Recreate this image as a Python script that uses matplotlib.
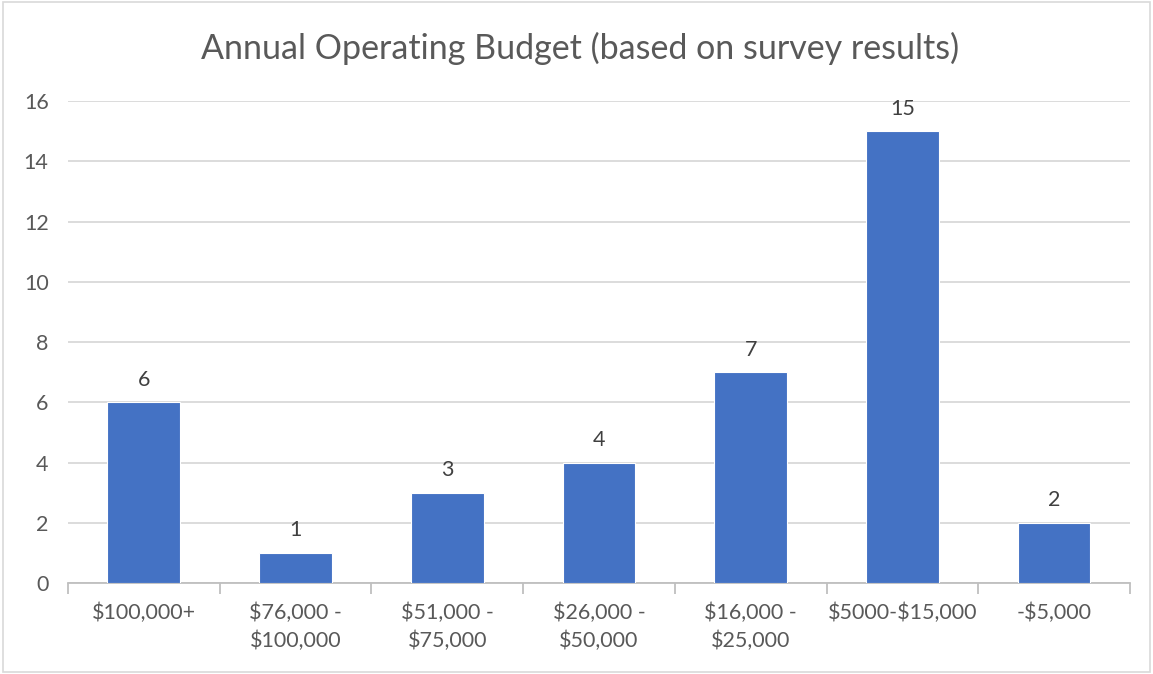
import matplotlib.pyplot as plt
import numpy as np
from matplotlib.patches import Rectangle

categories = ["\\$100,000+", "\\$76,000 -\n\\$100,000", "\\$51,000 -\n\\$75,000", "\\$26,000 -\n\\$50,000",
              "\\$16,000 -\n\\$25,000", "\\$5000-\\$15,000", "-\\$5,000"]
counts = [6, 1, 3, 4, 7, 15, 2]
yticks = [0, 2, 4, 6, 8, 10, 12, 14, 16]

plt.rcParams['font.family'] = ['Lato', 'DejaVu Sans']
text_color = "#595959"

fig = plt.figure(figsize=(11.53, 6.74), dpi=100)
fig.patches.append(Rectangle((0.003, 0.003), 0.994, 0.994, transform=fig.transFigure,
                             fill=False, edgecolor="#D9D9D9", linewidth=1.2))
ax = fig.add_axes([0.059, 0.135, 0.921, 0.715])

x = np.arange(len(categories))
bars = ax.bar(x, counts, width=0.48, color="#4472C4", edgecolor="white", linewidth=0.8, zorder=3)
for rect, v in zip(bars, counts):
    ax.annotate(str(v), (rect.get_x() + rect.get_width() / 2, v), xytext=(0, 9),
                textcoords="offset points", ha="center", va="bottom", fontsize=15.5, color="#404040")

ax.set_xlim(-0.5, len(categories) - 0.5)
ax.set_ylim(0, 16)
ax.set_yticks(yticks)
ax.yaxis.grid(True, color="#D9D9D9", linewidth=1.3, zorder=0)
ax.tick_params(axis="y", length=0, labelsize=15.5, labelcolor=text_color, pad=14)

ax.set_xticks(x)
ax.set_xticklabels(categories, fontsize=15.5, color=text_color, linespacing=1.45)
ax.tick_params(axis="x", length=0, pad=14)
ax.set_xticks(np.arange(len(categories) + 1) - 0.5, minor=True)
ax.tick_params(axis="x", which="minor", length=8, color="#BFBFBF", width=1.3)

for side in ["top", "right", "left"]:
    ax.spines[side].set_visible(False)
ax.spines["bottom"].set_color("#BFBFBF")
ax.spines["bottom"].set_linewidth(1.3)

fig.text(0.503, 0.928, "Annual Operating Budget (based on survey results)", ha="center", va="center",
         fontsize=24.5, color=text_color)

fig.savefig("out.png", dpi=100)
